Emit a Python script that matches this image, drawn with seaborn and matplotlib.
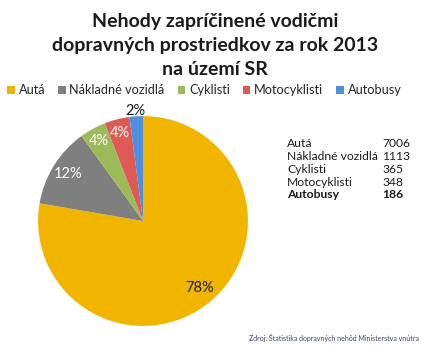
import matplotlib
matplotlib.use("Agg")
import matplotlib.pyplot as plt
import seaborn as sns
import numpy as np
from matplotlib.patches import Patch

categories = ["Autá", "Nákladné vozidlá", "Cyklisti", "Motocyklisti", "Autobusy"]
counts = [7006, 1113, 365, 348, 186]
colors = ["#F1B500", "#7F7F7F", "#9BBB59", "#E05A55", "#4F8FE0"]

sns.set_theme(style="white")
plt.rcParams["font.family"] = ["Lato", "DejaVu Sans"]

fig = plt.figure(figsize=(4.3, 3.5), dpi=100)
fig.patch.set_facecolor("white")

title = "Nehody zapríčinené vodičmi\ndopravných prostriedkov za rok 2013\nna území SR"
fig.text(0.5, 0.962, title, ha="center", va="top", fontsize=14, fontweight="bold",
         color="#1a1a1a", linespacing=1.5)

# pie
ax = fig.add_axes([0.3326 - 0.244, 0.3686 - 0.3, 0.488, 0.6])
total = sum(counts)
wedges, texts = ax.pie(counts, colors=colors, startangle=90, counterclock=False,
                       wedgeprops=dict(linewidth=0))
ax.set_xlim(-1, 1)
ax.set_ylim(-1, 1)
ax.set_aspect("equal")
ax.axis("off")

label_style = [(0.84, "#1a1a1a"), (0.84, "white"), (0.87, "white"),
               (0.87, "white"), (1.05, "#1a1a1a")]
for w, c, (r, col) in zip(wedges, counts, label_style):
    ang = np.deg2rad((w.theta1 + w.theta2) / 2)
    pct = round(100 * c / total)
    ax.text(r * np.cos(ang), r * np.sin(ang), f"{pct}%", ha="center", va="center",
            fontsize=10.5, color=col, clip_on=False)

# legend
handles = [Patch(facecolor=c, edgecolor="none") for c in colors]
fig.legend(handles, categories, loc="center", bbox_to_anchor=(0.475, 0.742), ncol=5,
           frameon=False, fontsize=9.2, handlelength=0.6, handleheight=0.6,
           handletextpad=0.3, columnspacing=1.0, borderaxespad=0)

# value table (baselines in pixels from the top)
rows_y = [147, 160, 173, 186, 198]
for i, (cat, val) in enumerate(zip(categories, counts)):
    bold = "bold" if i == len(categories) - 1 else "normal"
    y = 1 - rows_y[i] / 350
    fig.text(287 / 430, y, cat, ha="left", va="baseline", fontsize=8.7,
             fontweight=bold, color="#1a1a1a")
    fig.text(382 / 430, y, str(val), ha="left", va="baseline", fontsize=8.7,
             fontweight=bold, color="#1a1a1a")

fig.text(0.975, 1 - 338 / 350, "Zdroj: Štatistika dopravných nehôd Ministerstva vnútra",
         ha="right", va="center", fontsize=5, color="#3a4a6a")

fig.savefig("out.png", dpi=100)
